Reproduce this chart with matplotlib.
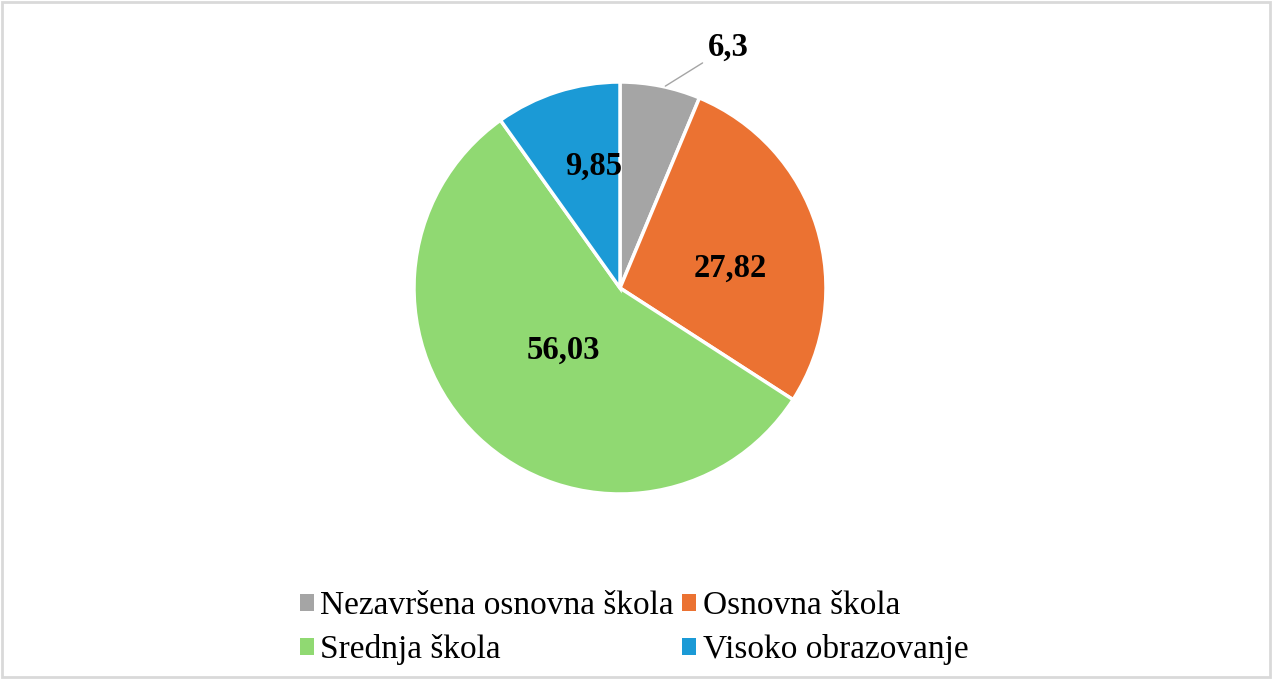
import matplotlib.pyplot as plt
from matplotlib.patches import Rectangle, Patch

categories = ["Nezavršena osnovna škola", "Osnovna škola", "Srednja škola", "Visoko obrazovanje"]
values = [6.3, 27.82, 56.03, 9.85]
value_labels = ["6,3", "27,82", "56,03", "9,85"]
colors = ["#A5A5A5", "#EB7232", "#90D972", "#1B9AD6"]

plt.rcParams['font.family'] = ['Liberation Serif', 'DejaVu Serif']

W, H = 1281, 683
fig = plt.figure(figsize=(W / 100, H / 100), dpi=100)

# pie centre and radius in pixels
cx, cy, r = 620, 288, 206
ax = fig.add_axes([(cx - r) / W, 1 - (cy + r) / H, 2 * r / W, 2 * r / H])
wedges, _ = ax.pie(values, colors=colors, startangle=90, counterclock=False,
                   wedgeprops=dict(edgecolor="white", linewidth=2.5))
ax.set_xlim(-1, 1)
ax.set_ylim(-1, 1)
ax.set_aspect("equal")

# labels inside the slices
ax.text(0.535, 0.095, value_labels[1], ha="center", va="center", fontsize=23.5, fontweight="bold")
ax.text(-0.275, -0.30, value_labels[2], ha="center", va="center", fontsize=23.5, fontweight="bold")
ax.text(-0.13, 0.59, value_labels[3], ha="center", va="center", fontsize=23.5, fontweight="bold")
# small slice, label outside with leader line
ax.annotate(value_labels[0], xy=(0.22, 0.98), xytext=(0.525, 1.17),
            ha="center", va="center", fontsize=23.5, fontweight="bold",
            arrowprops=dict(arrowstyle="-", color="#A5A5A5", lw=1, shrinkB=0, shrinkA=2),
            annotation_clip=False)

order = [0, 2, 1, 3]
handles = [Patch(facecolor=colors[i], edgecolor="none") for i in order]
fig.legend(handles, [categories[i] for i in order], ncol=2, loc="center",
           bbox_to_anchor=(634 / W, 1 - 628 / H), frameon=False, fontsize=24,
           handlelength=0.42, handleheight=0.42, handletextpad=0.2,
           columnspacing=0.25, labelspacing=0.38, borderpad=0)

# thin grey frame around the picture
fig.add_artist(Rectangle((2 / W, 6 / H), (1270 - 2) / W, (H - 8) / H, transform=fig.transFigure,
                         fill=False, edgecolor="#D9D9D9", linewidth=2))

fig.savefig("out.png", dpi=100)
